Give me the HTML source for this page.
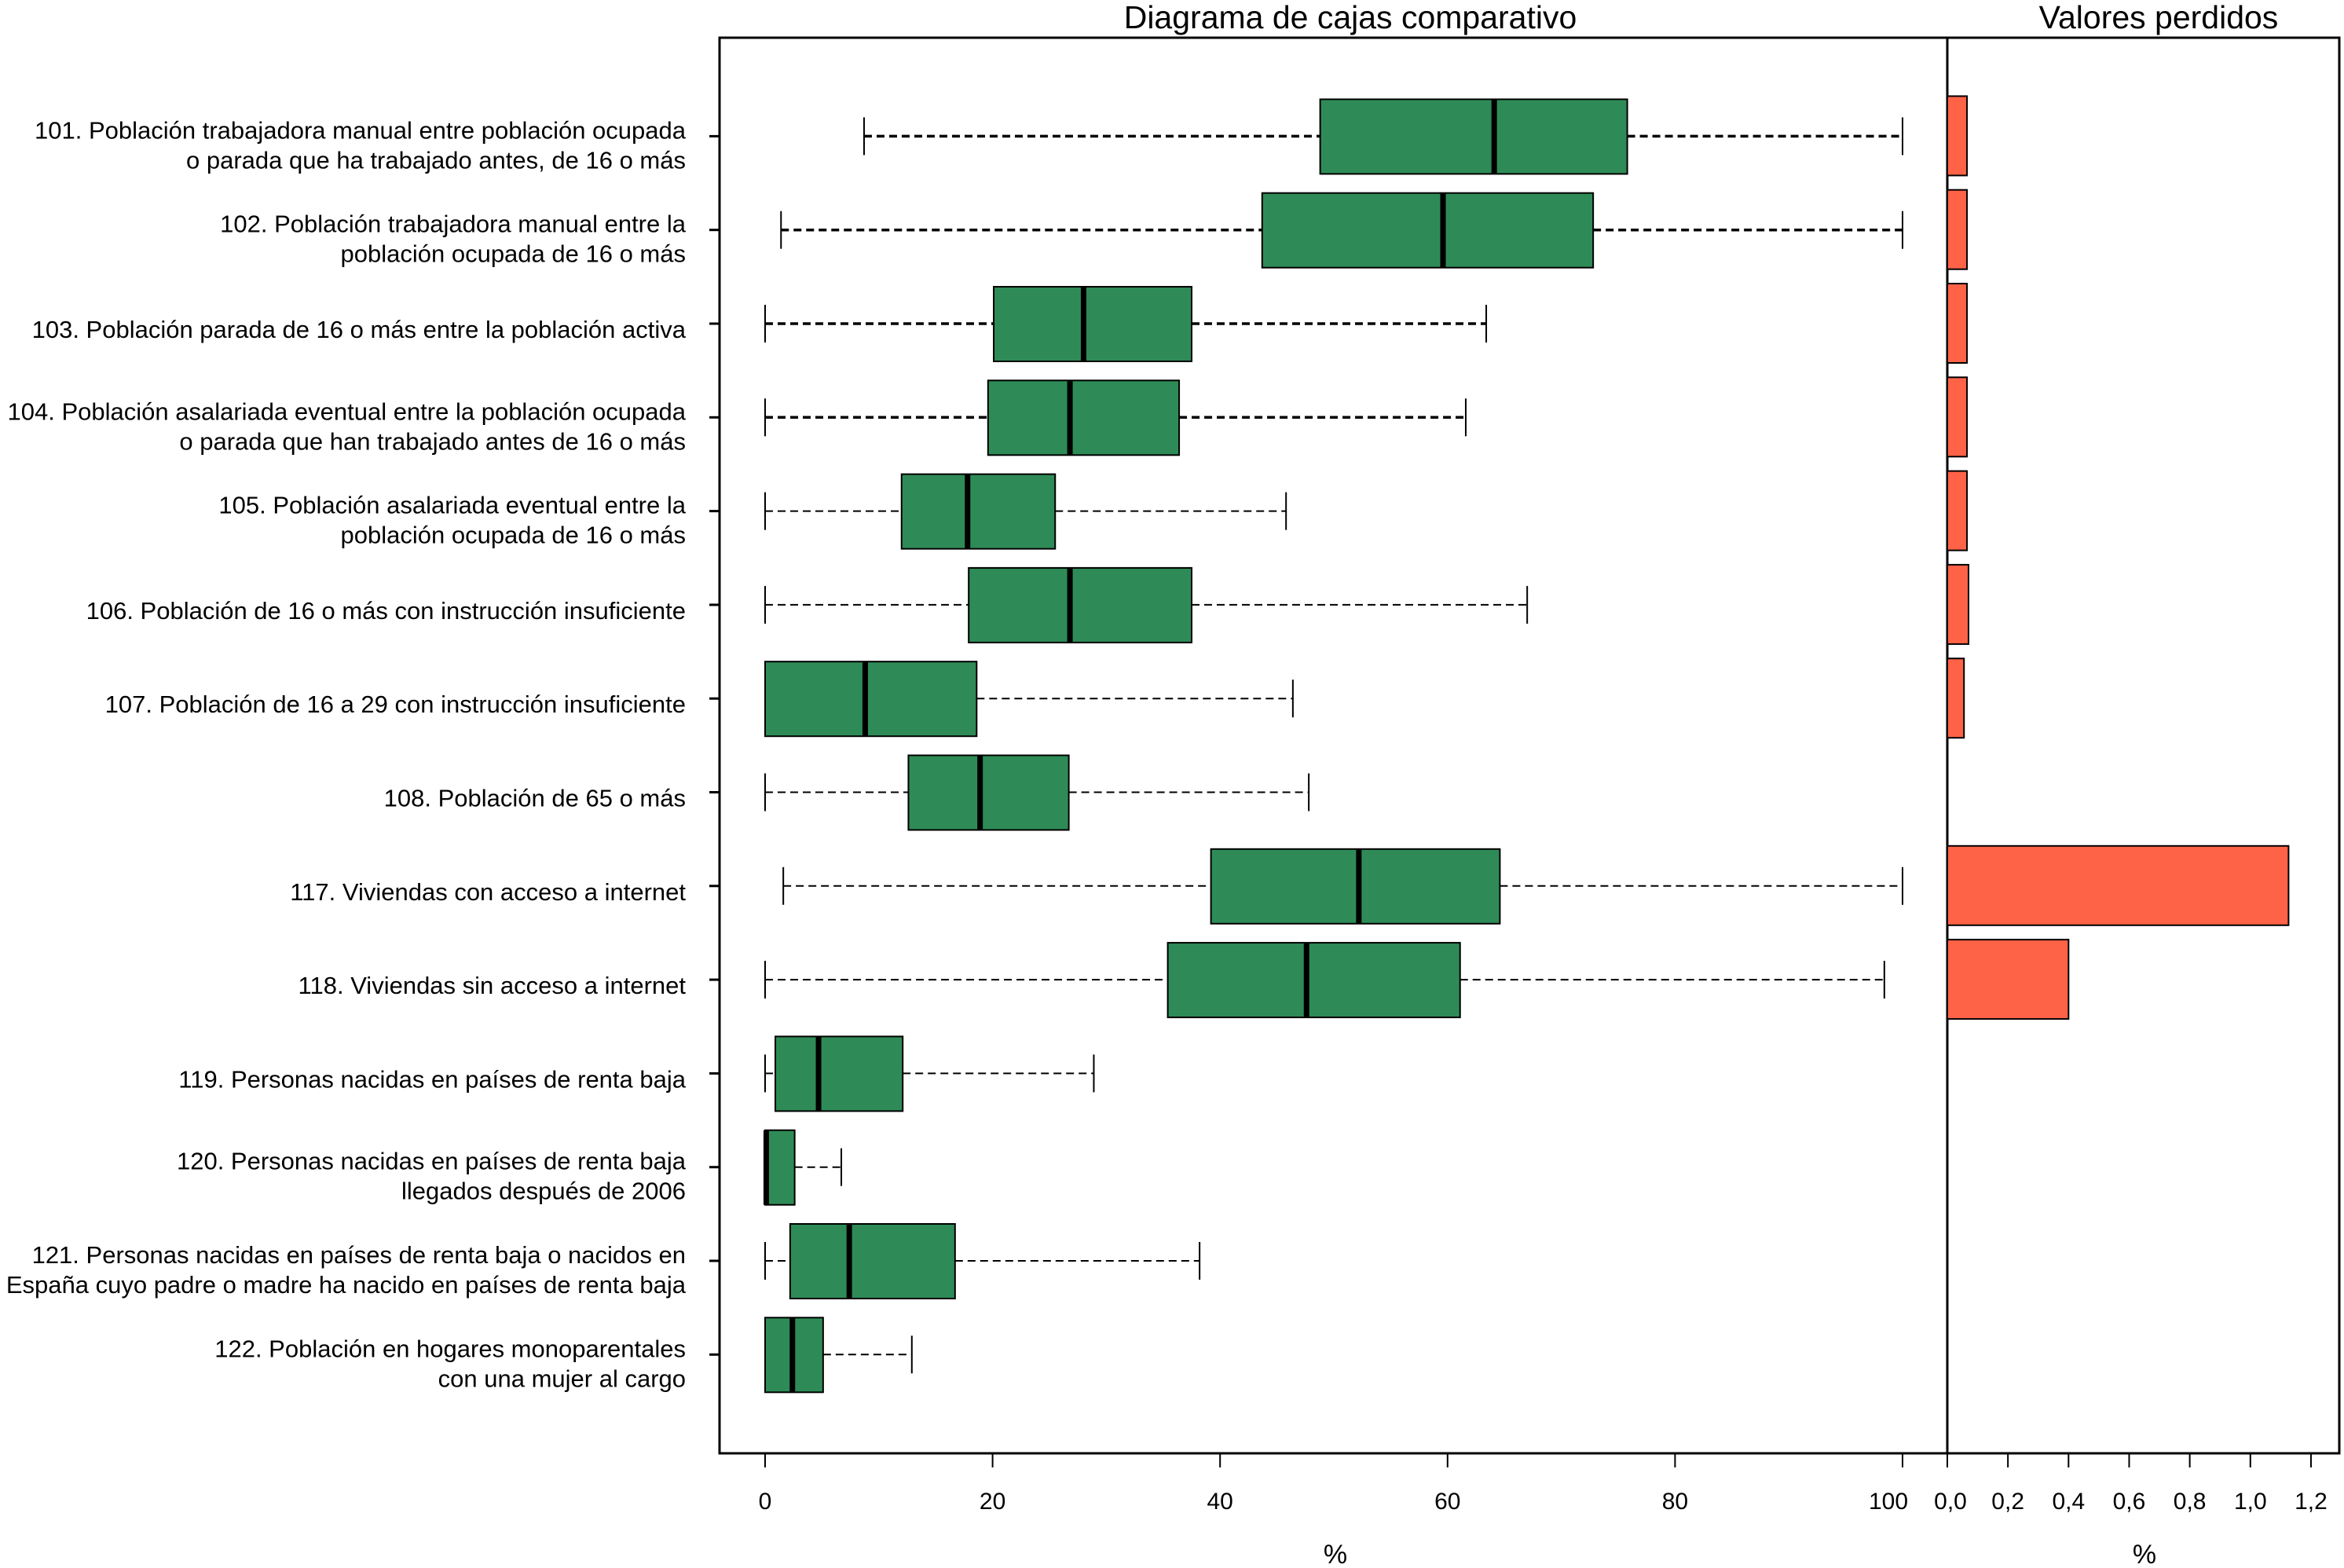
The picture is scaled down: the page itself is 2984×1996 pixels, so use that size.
<!DOCTYPE html>
<html><head><meta charset="utf-8"><style>
html,body{margin:0;padding:0;background:#fff;}
svg{display:block;font-family:"Liberation Sans",Arial,sans-serif;}
</style></head><body>
<svg id="chart" width="2984" height="1996" viewBox="0 0 2984 1996" xmlns="http://www.w3.org/2000/svg">
<text x="1719" y="36" font-size="41" text-anchor="middle">Diagrama de cajas comparativo</text>
<text x="2748" y="36" font-size="41" text-anchor="middle">Valores perdidos</text>
<rect x="916" y="48" width="2062" height="1802" fill="none" stroke="#000" stroke-width="3"/>
<line x1="2479" y1="48" x2="2479" y2="1850" stroke="#000" stroke-width="3"/>
<g id="marks"></g>
<text x="1700" y="1990" font-size="34" text-anchor="middle">%</text>
<text x="2730" y="1990" font-size="34" text-anchor="middle">%</text>
</svg>
<script>
const labels = [
 ["101. Población trabajadora manual entre población ocupada","o parada que ha trabajado antes, de 16 o más"],
 ["102. Población trabajadora manual entre la","población ocupada de 16 o más"],
 ["103. Población parada de 16 o  más entre la población activa"],
 ["104. Población asalariada eventual entre la población ocupada","o parada que han trabajado antes de 16 o más"],
 ["105. Población asalariada eventual entre la","población ocupada de 16 o más"],
 ["106. Población de 16 o más con instrucción insuficiente"],
 ["107. Población de 16 a 29 con instrucción insuficiente "],
 ["108. Población de 65 o más"],
 ["117. Viviendas con acceso a internet"],
 ["118. Viviendas sin acceso a internet"],
 ["119. Personas nacidas en países de renta baja"],
 ["120. Personas nacidas en países de renta baja","llegados después de 2006"],
 ["121. Personas nacidas en países de renta baja o nacidos en","España cuyo padre o madre ha nacido en países de renta baja"],
 ["122. Población en hogares monoparentales","con una mujer al cargo"]
];
const whiskerLow = [8.7,1.4,0,0,0,0,0,0,1.6,0,0,0,0,0];
const q1 = [48.8,43.7,20.1,19.6,12,17.9,0,12.6,39.2,35.4,0.9,0,2.2,0];
const median = [64.1,59.6,28,26.8,17.8,26.8,8.8,18.9,52.2,47.6,4.7,0.1,7.4,2.4];
const q3 = [75.8,72.8,37.5,36.4,25.5,37.5,18.6,26.7,64.6,61.1,12.1,2.6,16.7,5.1];
const whiskerHigh = [100,100,63.4,61.6,45.8,67,46.4,47.8,100,98.4,28.9,6.7,38.2,12.9];
const missing = [0.065,0.065,0.065,0.065,0.065,0.07,0.055,0,1.126,0.4,0,0,0,0];
const leftTicks = [0,20,40,60,80,100];
const rightTicks = ["0,0","0,2","0,4","0,6","0,8","1,0","1,2"];
const rightTickVals = [0,0.2,0.4,0.6,0.8,1.0,1.2];

const NS="http://www.w3.org/2000/svg";
const g=document.getElementById('marks');
const xL=v=>974+v*14.48;
const xR=v=>2479+v*385.8;
const yRow=i=>173.4+i*119.3;
function mk(tag,attrs){const e=document.createElementNS(NS,tag);for(const k in attrs)e.setAttribute(k,attrs[k]);g.appendChild(e);return e;}

labels.forEach((lab,i)=>{
  const y=yRow(i);
  const tk=mk('line',{x1:903,x2:916,y1:y,y2:y,stroke:'#000','stroke-width':3});
  
  
  const t=mk('text',{x:873,'font-size':31,'text-anchor':'end'});
  
  
  if(lab.length===1){t.setAttribute('y',y+18);t.textContent=lab[0];}
  else{
    lab.forEach((s,j)=>{const ts=document.createElementNS(NS,'tspan');ts.setAttribute('x',873);ts.setAttribute('y',y+3+j*38);ts.textContent=s;t.appendChild(ts);});
  }
  const thick=i<4?3.5:2;
  const wl=mk('line',{x1:xL(whiskerLow[i]),x2:xL(q1[i]),y1:y,y2:y,stroke:'#000','stroke-width':thick,'stroke-dasharray':'10 6'});
  
  
  const wh=mk('line',{x1:xL(q3[i]),x2:xL(whiskerHigh[i]),y1:y,y2:y,stroke:'#000','stroke-width':thick,'stroke-dasharray':'10 6'});
  
  
  [whiskerLow[i],whiskerHigh[i]].forEach(v=>{
    const c=mk('line',{x1:xL(v),x2:xL(v),y1:y-24,y2:y+24,stroke:'#000','stroke-width':2});
    
    
  });
  const b=mk('rect',{x:xL(q1[i]),y:y-47,width:Math.max(xL(q3[i])-xL(q1[i]),1),height:95,fill:'#2e8b57',stroke:'#000','stroke-width':2});
  
  
  const m=mk('line',{x1:xL(median[i]),x2:xL(median[i]),y1:y-47,y2:y+48,stroke:'#000','stroke-width':7});
  
  
  if(missing[i]>0){
    const r=mk('rect',{x:2479,y:y-51,width:xR(missing[i])-2479,height:101,fill:'#ff6347',stroke:'#000','stroke-width':2});
    
    
  }
});
leftTicks.forEach(v=>{
  const l=mk('line',{x1:xL(v),x2:xL(v),y1:1850,y2:1868,stroke:'#000','stroke-width':2});
  
  
  const t=mk('text',{x:xL(v)-(v===100?18:0),y:1921,'font-size':30,'text-anchor':'middle'});
  
  
  t.textContent=v;
});
rightTickVals.forEach((v,k)=>{
  const l=mk('line',{x1:xR(v),x2:xR(v),y1:1850,y2:1868,stroke:'#000','stroke-width':2});
  
  
  const t=mk('text',{x:xR(v)+(k===0?4:0),y:1921,'font-size':30,'text-anchor':'middle'});
  
  
  t.textContent=rightTicks[k];
});
</script>
</body></html>
